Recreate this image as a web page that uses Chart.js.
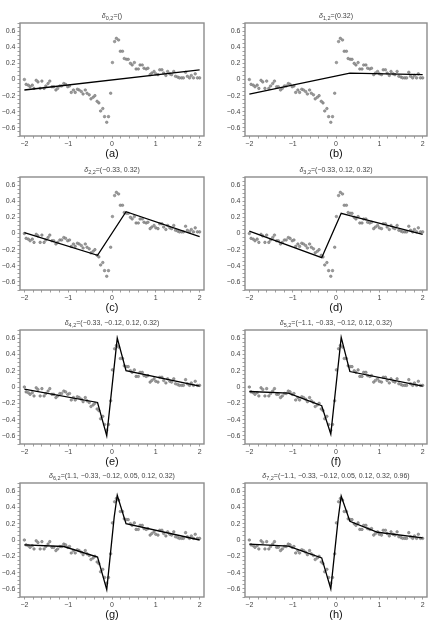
<!DOCTYPE html>
<html>
<head>
<meta charset="utf-8">
<script src="https://cdn.jsdelivr.net/npm/chart.js@4/dist/chart.umd.min.js"></script>
<style>
  html, body { margin:0; padding:0; background:#fff; }
  body { width:436px; height:624px; position:relative; overflow:hidden; }
  canvas { position:absolute; }
  .ttl { position:absolute; font-family:"Liberation Sans", Arial, sans-serif; font-size:7px; color:#444; white-space:nowrap; transform:translate(-50%,-50%); }
  .ttl sub { font-size:5.5px; vertical-align:-2px; }
  .cap { position:absolute; font-family:"Liberation Sans", Arial, sans-serif; font-size:11px; color:#111; white-space:nowrap; transform:translate(-50%,-50%); }
</style>
</head>
<body>
<script>
// ---- observed sample (same in every panel) ----
const sampleX = [-2.00,-1.96,-1.91,-1.87,-1.82,-1.78,-1.73,-1.69,-1.64,-1.60,-1.55,-1.51,-1.46,-1.42,-1.37,-1.33,-1.28,-1.24,-1.19,-1.15,-1.10,-1.06,-1.01,-0.97,-0.93,-0.88,-0.84,-0.79,-0.75,-0.70,-0.66,-0.61,-0.57,-0.52,-0.48,-0.43,-0.39,-0.34,-0.30,-0.26,-0.21,-0.17,-0.12,-0.08,-0.03,0.01,0.06,0.10,0.15,0.19,0.24,0.28,0.33,0.37,0.42,0.46,0.51,0.55,0.60,0.64,0.69,0.73,0.78,0.82,0.87,0.91,0.96,1.00,1.05,1.09,1.14,1.18,1.23,1.27,1.32,1.36,1.41,1.45,1.50,1.54,1.59,1.63,1.68,1.72,1.77,1.81,1.86,1.90,1.95,2.00];
const sampleY = [0.00,-0.06,-0.07,-0.09,-0.07,-0.11,-0.01,-0.03,-0.11,-0.02,-0.11,-0.08,-0.05,-0.02,-0.09,-0.09,-0.13,-0.11,-0.08,-0.08,-0.05,-0.06,-0.09,-0.08,-0.16,-0.13,-0.16,-0.12,-0.13,-0.15,-0.18,-0.13,-0.17,-0.19,-0.24,-0.22,-0.20,-0.27,-0.29,-0.39,-0.36,-0.46,-0.53,-0.46,-0.17,0.21,0.47,0.51,0.49,0.35,0.35,0.26,0.25,0.25,0.20,0.18,0.21,0.13,0.13,0.18,0.18,0.14,0.13,0.14,0.06,0.08,0.10,0.07,0.06,0.12,0.12,0.08,0.05,0.10,0.07,0.06,0.10,0.04,0.03,0.02,0.02,0.02,0.09,0.04,0.02,0.05,0.02,0.07,0.02,0.02];

// ---- fitted piecewise-linear curves (knot x, fitted y) ----
const fitA_x = [-2, 2];
const fitA_y = [-0.13, 0.12];
const fitB_x = [-2, 0.32, 2];
const fitB_y = [-0.18, 0.08, 0.06];
const fitC_x = [-2, -0.33, 0.32, 2];
const fitC_y = [0.01, -0.27, 0.27, -0.04];
const fitD_x = [-2, -0.33, 0.12, 0.32, 2];
const fitD_y = [0.03, -0.30, 0.25, 0.22, -0.01];
const fitE_x = [-2, -0.33, -0.12, 0.12, 0.32, 2];
const fitE_y = [-0.025, -0.19, -0.60, 0.60, 0.20, 0.01];
const fitF_x = [-2, -1.1, -0.33, -0.12, 0.12, 0.32, 2];
const fitF_y = [-0.055, -0.075, -0.23, -0.58, 0.61, 0.19, 0.01];
const fitG_x = [-2, -1.1, -0.33, -0.12, 0.05, 0.12, 0.32, 2];
const fitG_y = [-0.06, -0.08, -0.21, -0.61, 0.28, 0.55, 0.20, 0.0];
const fitH_x = [-2, -1.1, -0.33, -0.12, 0.05, 0.12, 0.32, 0.96, 2];
const fitH_y = [-0.05, -0.075, -0.22, -0.60, 0.26, 0.54, 0.23, 0.095, 0.025];

// ---- text ----
const titleSubs = ['0,2','1,2','2,2','3,2','4,2','5,2','6,2','7,2'];
const titleKnots = ['()','(0.32)','(−0.33, 0.32)','(−0.33, 0.12, 0.32)','(−0.33, −0.12, 0.12, 0.32)','(−1.1, −0.33, −0.12, 0.12, 0.32)','(1.1, −0.33, −0.12, 0.05, 0.12, 0.32)','(−1.1, −0.33, −0.12, 0.05, 0.12, 0.32, 0.96)'];
const captions = ['(a)','(b)','(c)','(d)','(e)','(f)','(g)','(h)'];

// ---- axis ticks ----
const xTickValues = [-2,-1.8,-1.6,-1.4,-1.2,-1,-0.8,-0.6,-0.4,-0.2,0,0.2,0.4,0.6,0.8,1,1.2,1.4,1.6,1.8,2];
const xTickLabels = ['−2','−1','0','1','2'];
const yTickLabels = ['−0.6','−0.4','−0.2','0','0.2','0.4','0.6'];

const fitsX = [fitA_x, fitB_x, fitC_x, fitD_x, fitE_x, fitF_x, fitG_x, fitH_x];
const fitsY = [fitA_y, fitB_y, fitC_y, fitD_y, fitE_y, fitF_y, fitG_y, fitH_y];

// ---- layout (frame pixel positions) ----
const colLeft = [0, 218];
const frameL = [20, 245];
const frameR = [204, 427];
const frameT = [23, 177, 330, 483];
const frameB = [136, 290, 444, 597];
const topPad = 23, xAxisH = 14;

const framePlugin = {
  id: 'frame',
  afterDraw(chart) {
    const a = chart.chartArea, c = chart.ctx;
    c.save();
    c.strokeStyle = '#8c8c8c';
    c.lineWidth = 1.4;
    c.strokeRect(a.left, a.top, a.right - a.left, a.bottom - a.top);
    c.restore();
  }
};

function fmtX(v) {
  if (Math.abs(v - Math.round(v)) > 1e-6) return '';
  const r = Math.round(v);
  return xTickLabels[r + 2];
}
function fmtY(v) {
  const n = Math.round(v * 100);
  if (n % 20 !== 0 || Math.abs(n) > 60) return '';
  return yTickLabels[n / 20 + 3];
}

for (let i = 0; i < 8; i++) {
  const col = i % 2, row = Math.floor(i / 2);
  const cx = colLeft[col];
  const L = frameL[col], R = frameR[col], T = frameT[row], B = frameB[row];
  const cTop = T - topPad;
  const h = topPad + (B - T) + xAxisH;
  const cv = document.createElement('canvas');
  cv.width = 218; cv.height = h;
  cv.style.left = cx + 'px'; cv.style.top = cTop + 'px';
  cv.style.width = '218px'; cv.style.height = h + 'px';
  document.body.appendChild(cv);

  const ttl = document.createElement('div');
  ttl.className = 'ttl';
  ttl.innerHTML = '<i>δ</i><sub>' + titleSubs[i] + '</sub>=' + titleKnots[i];
  ttl.style.left = ((L + R) / 2) + 'px';
  ttl.style.top = (T - 7) + 'px';
  document.body.appendChild(ttl);

  const cap = document.createElement('div');
  cap.className = 'cap';
  cap.textContent = captions[i];
  cap.style.left = ((L + R) / 2) + 'px';
  cap.style.top = (B + 17) + 'px';
  document.body.appendChild(cap);

  const pts = sampleX.map((x, k) => ({x: x, y: sampleY[k]}));
  const fit = fitsX[i].map((x, k) => ({x: x, y: fitsY[i][k]}));
  const yW = L - cx;
  const rPad = cx + 218 - R;

  new Chart(cv, {
    type: 'scatter',
    data: {
      datasets: [
        { data: fit, showLine: true, borderColor: '#000', borderWidth: 1.3, pointRadius: 0, fill: false, order: 0 },
        { data: pts, pointRadius: 1.3, pointBackgroundColor: '#9a9a9a', pointBorderColor: '#6e6e6e', pointBorderWidth: 0.5, showLine: false, order: 1 }
      ]
    },
    options: {
      responsive: false, animation: false, devicePixelRatio: 1,
      layout: { padding: { left: 0, right: rPad, top: topPad, bottom: 0 } },
      plugins: { legend: { display: false }, tooltip: { enabled: false }, title: { display: false } },
      scales: {
        x: {
          type: 'linear', min: -2.1, max: 2.1,
          afterBuildTicks(s) { s.ticks = xTickValues.map(v => ({value: v})); },
          afterFit(s) { s.height = xAxisH; },
          border: { display: false },
          grid: { display: true, drawOnChartArea: false, drawTicks: true, tickLength: 2.5, color: '#777', lineWidth: 0.7 },
          ticks: { autoSkip: false, maxRotation: 0, padding: 1, color: '#444', font: { family: 'Liberation Sans', size: 7 }, callback: fmtX }
        },
        y: {
          type: 'linear', min: -0.7, max: 0.7,
          afterFit(s) { s.width = yW; },
          border: { display: false },
          grid: { display: true, drawOnChartArea: false, drawTicks: true, tickLength: 2.5, color: '#777', lineWidth: 0.7 },
          ticks: { stepSize: 0.05, autoSkip: false, padding: 2, color: '#444', font: { family: 'Liberation Sans', size: 7 }, callback: fmtY }
        }
      }
    },
    plugins: [framePlugin]
  });
}
</script>
</body>
</html>
